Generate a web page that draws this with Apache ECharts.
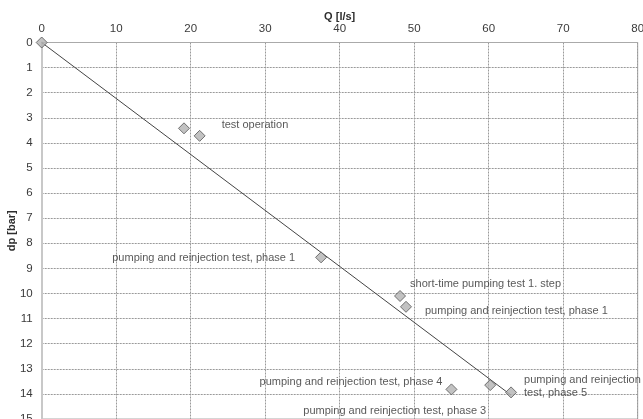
<!DOCTYPE html>
<html>
<head>
<meta charset="utf-8">
<script src="https://cdn.jsdelivr.net/npm/echarts@6/dist/echarts.min.js"></script>
<style>
  html, body { margin: 0; padding: 0; background: #fff; }
  #chart { width: 643px; height: 419px; }
</style>
</head>
<body>
<div id="chart"></div>
<script>
// Measured flow rate vs. pressure drop
const flowQ = [0, 19.1, 21.2, 37.5, 48.1, 48.9, 55.0, 60.2, 63.0];
const pressureDp = [0, 3.42, 3.72, 8.56, 10.1, 10.53, 13.82, 13.65, 13.94];
const pointNames = [
  '',
  '',
  'test operation',
  'pumping and reinjection test, phase 1',
  'short-time pumping test 1. step',
  'pumping and reinjection test, phase 1',
  'pumping and reinjection test, phase 4',
  'pumping and reinjection test, phase 3',
  'pumping and reinjection\ntest, phase 5'
];

// Linear trend through the origin
const trendQ = [0, 63.0];
const trendDp = [0, 14.05];

// Label placement per point: [side, dx, dy]
const labelPlacement = [
  null,
  null,
  ['right', 16, -11],
  ['left', -20, 1],
  ['right', 4, -12],
  ['right', 13, 4],
  ['left', -3, -7],
  ['left', 2, 26],
  ['right', 7, -6]
];

const font = 'Liberation Sans, Arial, sans-serif';
const textColor = '#2e2e2e';

const scatterData = flowQ.map((q, i) => {
  const item = { value: [q, pressureDp[i]], name: pointNames[i] };
  const p = labelPlacement[i];
  if (p && pointNames[i]) {
    item.label = {
      show: true,
      position: p[0],
      distance: 0,
      offset: [p[1], p[2]],
      formatter: '{b}',
      color: textColor,
      fontFamily: font,
      fontSize: 11,
      lineHeight: 13,
      align: p[0] === 'left' ? 'right' : 'left'
    };
  }
  return item;
});

const chart = echarts.init(document.getElementById('chart'), null, { renderer: 'canvas' });
chart.setOption({
  backgroundColor: '#fff',
  animation: false,
  grid: {
    left: 41.7, right: 5.3, top: 42.5, bottom: 0,
    containLabel: false,
    outerBoundsMode: 'none',
    show: true, borderColor: '#aaa', borderWidth: 1, backgroundColor: 'transparent'
  },
  xAxis: {
    type: 'value',
    position: 'top',
    min: 0, max: 80, interval: 10,
    name: 'Q [l/s]',
    nameLocation: 'middle',
    nameGap: 20,
    nameMoveOverlap: false,
    nameTextStyle: { fontFamily: font, fontSize: 11, fontWeight: 'bold', color: textColor },
    axisLine: { show: true, lineStyle: { color: '#aaa', width: 1 } },
    axisTick: { show: false },
    axisLabel: { margin: 8, fontFamily: font, fontSize: 11.5, color: '#3a3a3a' },
    splitLine: { show: true, lineStyle: { color: '#9a9a9a', type: [2, 1], width: 1 } }
  },
  yAxis: {
    type: 'value',
    inverse: true,
    min: 0, max: 15, interval: 1,
    name: 'dp [bar]',
    nameLocation: 'middle',
    nameRotate: 90,
    nameGap: 24,
    nameMoveOverlap: false,
    nameTextStyle: { fontFamily: font, fontSize: 11, fontWeight: 'bold', color: textColor },
    axisLine: { show: true, lineStyle: { color: '#c8c8c8', width: 2 } },
    axisTick: { show: false },
    axisLabel: { margin: 9, fontFamily: font, fontSize: 11.5, color: '#3a3a3a' },
    splitLine: { show: true, lineStyle: { color: '#9a9a9a', type: [2, 1], width: 1 } }
  },
  series: [
    {
      type: 'line',
      data: trendQ.map((q, i) => [q, trendDp[i]]),
      showSymbol: false,
      symbol: 'none',
      lineStyle: { color: '#444', width: 1 },
      z: 2
    },
    {
      type: 'scatter',
      data: scatterData,
      symbol: 'diamond',
      symbolSize: 11,
      itemStyle: { color: '#b3b3b3', borderColor: '#555', borderWidth: 1 },
      z: 3
    }
  ]
});
</script>
</body>
</html>
